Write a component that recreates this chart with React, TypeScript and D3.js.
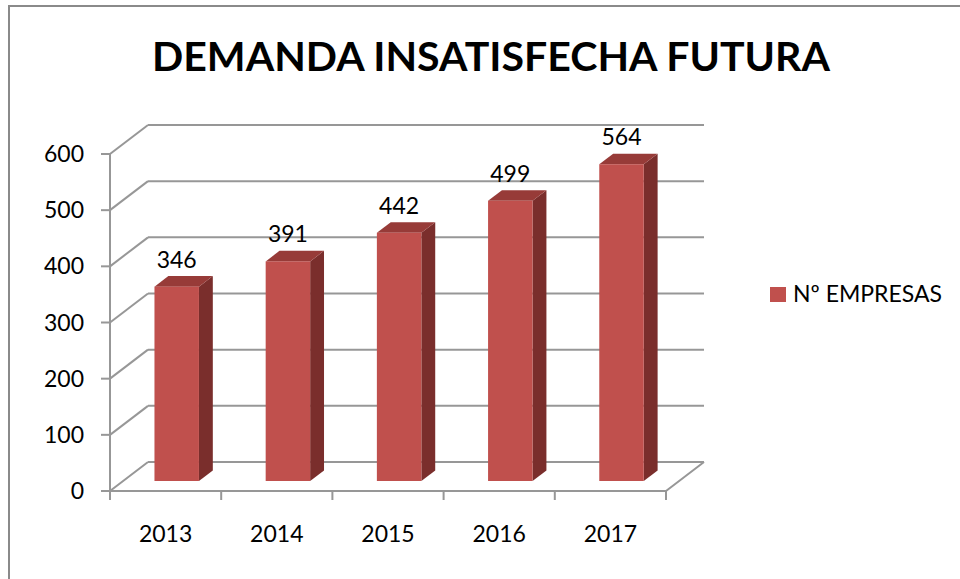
import React from 'react';
import * as d3 from 'd3';

// Chart data
const years = ['2013', '2014', '2015', '2016', '2017'];
const empresas = [346, 391, 442, 499, 564];
const yTicks = [0, 100, 200, 300, 400, 500, 600];
const seriesName = 'Nº EMPRESAS';
const title = 'DEMANDA INSATISFECHA FUTURA';

const width = 960;
const height = 579;

// 3D projection: the depth offset of the back wall
const depthX = 38;
const depthY = -29;
const barFront = 0.345;
const barBack = 0.71;

const FONT = 'Lato, "Open Sans", sans-serif';

const App: React.FC = () => {
  const x = d3.scaleBand<string>().domain(years).range([108, 664]).paddingInner(0.6).paddingOuter(0.3);
  const y = d3.scaleLinear().domain([0, 600]).range([491, 154]);
  const cat = d3.scaleBand<string>().domain(years).range([110, 666]);

  const grid = '#979797';
  const front = '#C0504D';
  const side = '#7A2E2C';
  const top = '#973B38';

  const off = (f: number) => [depthX * f, depthY * f];

  return (
    <svg
      width={width}
      height={height}
      viewBox={`0 0 ${width} ${height}`}
      style={{ position: 'absolute', left: 0, top: 0, background: '#fff' }}
    >
      {/* chart border */}
      <rect x={9} y={6} width={width + 20} height={height + 20} fill="#fff" stroke="#8a8a8a" strokeWidth={2} />

      <text x={491} y={71} textAnchor="middle" fontFamily={FONT} fontWeight="bold" fontSize={40}
        textLength={678} lengthAdjust="spacingAndGlyphs" fill="#000">
        {title}
      </text>

      {/* gridlines: back wall + left wall diagonals */}
      {yTicks.map((t) => {
        const yf = y(t);
        const yb = yf + depthY;
        return (
          <g key={t}>
            {t > 0 && <line x1={110} y1={yf} x2={110 + depthX} y2={yb} stroke={grid} strokeWidth={2} />}
            <line x1={110 + depthX} y1={yb} x2={666 + depthX} y2={yb} stroke={grid} strokeWidth={2} />
            <line x1={101} y1={yf} x2={110} y2={yf} stroke={grid} strokeWidth={2} />
            <text x={84} y={yf + 8} textAnchor="end" fontFamily={FONT} fontSize={23} fill="#000">{t}</text>
          </g>
        );
      })}

      {/* floor */}
      <path
        d={`M110,${y(0)} L${110 + depthX},${y(0) + depthY} M666,${y(0)} L${666 + depthX},${y(0) + depthY}`}
        stroke={grid} strokeWidth={2} fill="none"
      />
      <line x1={110} y1={y(0)} x2={666} y2={y(0)} stroke={grid} strokeWidth={2} />
      <line x1={110} y1={y(0)} x2={110} y2={y(600)} stroke={grid} strokeWidth={2} />
      {d3.range(years.length + 1).map((i) => {
        const xx = 110 + i * cat.bandwidth();
        return <line key={i} x1={xx} y1={y(0)} x2={xx} y2={y(0) + 9} stroke={grid} strokeWidth={2} />;
      })}

      {/* bars */}
      {years.map((yr, i) => {
        const v = empresas[i];
        const [fx, fy] = off(barFront);
        const [bx, by] = off(barBack);
        const x0 = (x(yr) as number) + fx;
        const x1 = x0 + x.bandwidth();
        const y0 = y(0) + fy;
        const yt = y(v) + fy;
        const dx = bx - fx;
        const dy = by - fy;
        return (
          <g key={yr}>
            <path d={`M${x1},${y0} L${x1 + dx},${y0 + dy} L${x1 + dx},${yt + dy} L${x1},${yt} Z`} fill={side} />
            <path d={`M${x0},${yt} L${x0 + dx},${yt + dy} L${x1 + dx},${yt + dy} L${x1},${yt} Z`} fill={top} />
            <rect x={x0} y={yt} width={x1 - x0} height={y0 - yt} fill={front} />
            <text x={(x0 + x1) / 2} y={yt - 19} textAnchor="middle" fontFamily={FONT} fontSize={23} fill="#000">{v}</text>
          </g>
        );
      })}

      {/* category labels */}
      {years.map((yr) => (
        <text key={yr} x={(cat(yr) as number) + cat.bandwidth() / 2} y={542} textAnchor="middle"
          fontFamily={FONT} fontSize={23} fill="#000">{yr}</text>
      ))}

      {/* legend */}
      <rect x={770} y={287} width={16} height={15} fill={front} />
      <text x={793} y={302} fontFamily={FONT} fontSize={23} fill="#000" textLength={149} lengthAdjust="spacingAndGlyphs">
        {seriesName}
      </text>
    </svg>
  );
};

export default App;
